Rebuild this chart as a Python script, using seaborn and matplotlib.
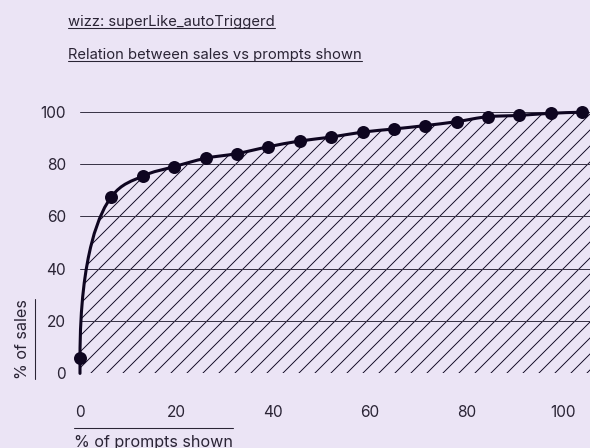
import numpy as np
import pandas as pd
import matplotlib
matplotlib.use("Agg")
import matplotlib.pyplot as plt
from matplotlib.path import Path
from matplotlib.patches import PathPatch
from matplotlib.lines import Line2D
import seaborn as sns

# data
prompts_shown = [0, 6.5, 13, 19.5, 26, 32.5, 39, 45.5, 52, 58.5, 65, 71.5, 78, 84.5, 91, 97.5, 104]
sales = [6.0, 67.5, 75.4, 79.0, 82.2, 84.0, 86.6, 88.8, 90.3, 92.2, 93.4, 94.7, 96.2, 98.1, 98.6, 99.4, 99.8]
y_ticks = [0, 20, 40, 60, 80, 100]
x_ticks = [0, 20, 40, 60, 80, 100]
title_1 = "wizz: superLike_autoTriggerd"
title_2 = "Relation between sales vs prompts shown"
x_label = "% of prompts shown"
y_label = "% of sales"

BG = "#ebe4f5"
INK = "#0e0520"
TEXT = "#2a2435"
GRID = "#3b3548"

W, H, DPI = 590, 448, 96
sns.set_theme(style="white", rc={
    "figure.facecolor": BG,
    "axes.facecolor": BG,
    "savefig.facecolor": BG,
    "hatch.linewidth": 0.7,
})
plt.rcParams["font.family"] = ["Inter", "DejaVu Sans"]

df = pd.DataFrame({"prompts": prompts_shown, "sales": sales})

fig = plt.figure(figsize=(W / DPI, H / DPI), dpi=DPI)


def fx(px):
    return px / W


def fy(py):
    return 1 - py / H


ax = fig.add_axes([fx(80), fy(373.4), fx(510), 261.7 / H])
ax.set_xlim(0, 105.6)
ax.set_ylim(0, 100)


def smooth_verts(xs, ys):
    # monotone cubic (d3 style) bezier segments, first one leaving vertically
    xs = np.asarray(xs, float)
    ys = np.asarray(ys, float)
    n = len(xs)
    h = np.diff(xs)
    s = np.diff(ys) / h
    t = np.zeros(n)
    for i in range(1, n - 1):
        p = (s[i - 1] * h[i] + s[i] * h[i - 1]) / (h[i - 1] + h[i])
        t[i] = (np.sign(s[i - 1]) + np.sign(s[i])) * min(abs(s[i - 1]), abs(s[i]), 0.5 * abs(p))
    t[-1] = (3 * s[-1] - t[-2]) / 2
    verts = [(xs[0], 0), (xs[0], ys[0])]
    codes = [Path.MOVETO, Path.LINETO]
    for i in range(n - 1):
        if i == 0:
            c1 = (xs[0], ys[0] + 0.66 * (ys[1] - ys[0]))
        else:
            c1 = (xs[i] + h[i] / 3, ys[i] + h[i] / 3 * t[i])
        c2 = (xs[i + 1] - h[i] / 3, ys[i + 1] - h[i] / 3 * t[i + 1])
        verts += [c1, c2, (xs[i + 1], ys[i + 1])]
        codes += [Path.CURVE4] * 3
    return verts, codes


verts, codes = smooth_verts(prompts_shown, sales)

fill_verts = verts + [(105.6, sales[-1]), (105.6, 0), (0, 0)]
fill_codes = codes + [Path.LINETO, Path.LINETO, Path.CLOSEPOLY]
ax.add_patch(PathPatch(Path(fill_verts, fill_codes), facecolor="none",
                       edgecolor=INK, linewidth=0, hatch="//", zorder=1))

for yv in y_ticks:
    ax.axhline(yv, color=GRID, linewidth=0.75, zorder=2)

ax.add_patch(PathPatch(Path(verts, codes), facecolor="none", edgecolor=INK,
                       linewidth=2.3, zorder=3, clip_on=False, capstyle="round"))

sns.scatterplot(data=df, x="prompts", y="sales", ax=ax, color=INK, s=95,
                linewidth=0, zorder=4, clip_on=False)

ax.set_yticks(y_ticks)
ax.set_xticks(x_ticks)
ax.tick_params(axis="y", length=0, pad=10.5, labelsize=11.6, labelcolor=TEXT)
ax.tick_params(axis="x", length=0, pad=24, labelsize=11.6, labelcolor=TEXT)
ax.set_xlabel("")
ax.set_ylabel("")
for sp in ax.spines.values():
    sp.set_visible(False)

# titles and axis labels with underlines
t1 = fig.text(fx(68), fy(26.3), title_1, ha="left", va="baseline", fontsize=11.1, color=TEXT)
t2 = fig.text(fx(68), fy(59.3), title_2, ha="left", va="baseline", fontsize=11.1, color=TEXT)
xl = fig.text(fx(74), fy(446.5), x_label, ha="left", va="baseline", fontsize=12.1, color=TEXT)
yl = fig.text(fx(27), fy(339), y_label, ha="center", va="baseline", rotation=90,
              rotation_mode="anchor", fontsize=12.1, color=TEXT)

fig.canvas.draw()
r = fig.canvas.get_renderer()
inv = fig.transFigure.inverted()


def hline(txt, py):
    bb = txt.get_window_extent(r).transformed(inv)
    fig.add_artist(Line2D([bb.x0, bb.x1], [fy(py), fy(py)], color=TEXT, linewidth=0.8))


hline(t1, 27.6)
hline(t2, 61.0)
hline(xl, 427.7)
bb = yl.get_window_extent(r).transformed(inv)
fig.add_artist(Line2D([fx(35), fx(35)], [bb.y0, bb.y1], color=TEXT, linewidth=0.8))

fig.savefig("out.png", dpi=DPI)
